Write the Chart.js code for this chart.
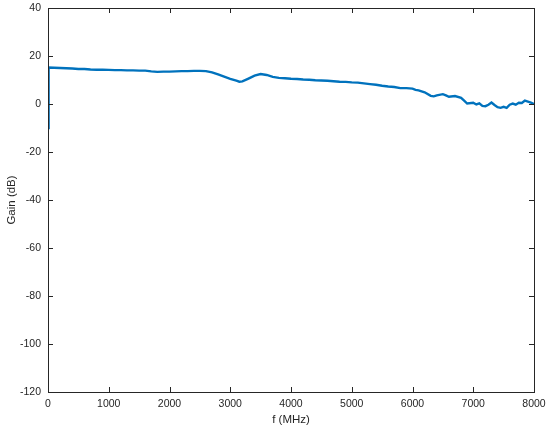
<!DOCTYPE html>
<html>
<head>
<meta charset="utf-8">
<script src="https://cdn.jsdelivr.net/npm/chart.js@4.4.1/dist/chart.umd.min.js"></script>
<style>
    html, body { margin: 0; padding: 0; background: #ffffff; }
    #wrap { width: 550px; height: 433px; position: relative; }
</style>
</head>
<body>
<div id="wrap"><canvas id="gainChart"></canvas></div>
<script>
const freqMHz = [
    0, 10, 100, 200, 300, 400, 500, 600, 700, 800, 900,
    1000, 1100, 1200, 1300, 1400, 1500, 1600, 1700, 1800, 1900,
    2000, 2100, 2200, 2300, 2400, 2500, 2600, 2700, 2800, 2900,
    3000, 3100, 3150, 3200, 3300, 3400, 3500, 3600, 3700, 3800, 3900,
    4000, 4100, 4200, 4300, 4400, 4500, 4600, 4700, 4800, 4900,
    5000, 5100, 5200, 5300, 5400, 5500, 5600, 5700, 5800, 5900,
    6000, 6050, 6100, 6200, 6300, 6350, 6400, 6500, 6550, 6600, 6700, 6800, 6850, 6900,
    7000, 7050, 7100, 7150, 7200, 7250, 7300, 7350, 7400, 7450, 7500, 7550, 7600,
    7650, 7700, 7750, 7800, 7850, 7900, 7950, 8000
];
const gainDb = [
    -10, 15.2, 15.1, 15.0, 14.9, 14.8, 14.6, 14.6, 14.4, 14.3, 14.3,
    14.2, 14.1, 14.1, 14.0, 14.0, 13.9, 13.9, 13.6, 13.4, 13.5,
    13.5, 13.6, 13.7, 13.7, 13.8, 13.8, 13.7, 13.2, 12.3, 11.4,
    10.5, 9.7, 9.3, 9.4, 10.6, 11.8, 12.5, 12.1, 11.3, 10.9, 10.7,
    10.5, 10.4, 10.2, 10.1, 9.9, 9.8, 9.7, 9.5, 9.3, 9.2,
    9.0, 8.9, 8.6, 8.3, 8.0, 7.6, 7.3, 7.1, 6.6, 6.6,
    6.4, 5.9, 5.7, 4.9, 3.4, 3.2, 3.6, 4.1, 3.6, 3.0, 3.3, 2.6, 1.4, 0.2,
    0.5, -0.2, 0.3, -0.8, -0.9, -0.3, 0.6, -0.4, -1.3, -1.6, -1.2, -1.6, -0.3,
    0.2, -0.3, 0.5, 0.4, 1.4, 1.0, 0.6, 0.0
];
const xTicks = [0, 1000, 2000, 3000, 4000, 5000, 6000, 7000, 8000];
const yTicks = [-120, -100, -80, -60, -40, -20, 0, 20, 40];

const axisColor = '#262626';
const tickFont = { family: 'Liberation Sans', size: 10.5 };

// MATLAB-style box with inward tick marks
const boxPlugin = {
    id: 'boxPlugin',
    afterDatasetsDraw(chart) {
        const { ctx, chartArea: a, scales } = chart;
        ctx.save();
        ctx.strokeStyle = '#262626';
        ctx.lineWidth = 1;
        ctx.beginPath();
        xTicks.forEach(v => {
            const x = Math.round(scales.x.getPixelForValue(v)) + 0.5;
            ctx.moveTo(x, a.bottom); ctx.lineTo(x, a.bottom - 5);
            ctx.moveTo(x, a.top); ctx.lineTo(x, a.top + 5);
        });
        yTicks.forEach(v => {
            const y = Math.round(scales.y.getPixelForValue(v)) + 0.5;
            ctx.moveTo(a.left, y); ctx.lineTo(a.left + 5, y);
            ctx.moveTo(a.right, y); ctx.lineTo(a.right - 5, y);
        });
        ctx.stroke();
        ctx.strokeRect(Math.round(a.left) + 0.5, Math.round(a.top) + 0.5,
            Math.round(a.right - a.left), Math.round(a.bottom - a.top));
        ctx.restore();
    }
};

const ctx = document.getElementById('gainChart').getContext('2d');
new Chart(ctx, {
    type: 'line',
    data: {
        datasets: [{
            data: freqMHz.map((f, i) => ({ x: f, y: gainDb[i] })),
            borderColor: '#0072BD',
            borderWidth: 2.4,
            pointRadius: 0,
            fill: false,
            tension: 0
        }]
    },
    options: {
        responsive: true,
        maintainAspectRatio: false,
        animation: false,
        layout: { padding: { top: 8, right: 16, left: 0, bottom: 0 } },
        plugins: { legend: { display: false }, tooltip: { enabled: false } },
        scales: {
            x: {
                type: 'linear',
                min: 0,
                max: 8000,
                afterBuildTicks: s => { s.ticks = xTicks.map(v => ({ value: v })); },
                afterFit: s => {
                    s.height = 41;
                    s.paddingLeft = 0; s.paddingRight = 0;
                },
                grid: { display: false, drawTicks: false },
                border: { display: false },
                ticks: {
                    font: tickFont, color: axisColor, padding: 6, maxRotation: 0,
                    callback: v => String(v)
                },
                title: {
                    display: true,
                    text: 'f (MHz)',
                    font: { family: 'Liberation Sans', size: 11.5 },
                    color: axisColor,
                    padding: { top: 1, bottom: 6 }
                }
            },
            y: {
                min: -120,
                max: 40,
                afterBuildTicks: s => { s.ticks = yTicks.map(v => ({ value: v })); },
                afterFit: s => {
                    s.width = 48;
                    s.paddingTop = 0; s.paddingBottom = 0;
                },
                grid: { display: false, drawTicks: false },
                border: { display: false },
                ticks: {
                    font: tickFont, color: axisColor, padding: 7,
                    callback: v => String(v)
                },
                title: {
                    display: true,
                    text: 'Gain (dB)',
                    font: { family: 'Liberation Sans', size: 11.5 },
                    color: axisColor,
                    padding: { top: 5, bottom: 0 }
                }
            }
        }
    },
    plugins: [boxPlugin]
});
</script>
</body>
</html>
